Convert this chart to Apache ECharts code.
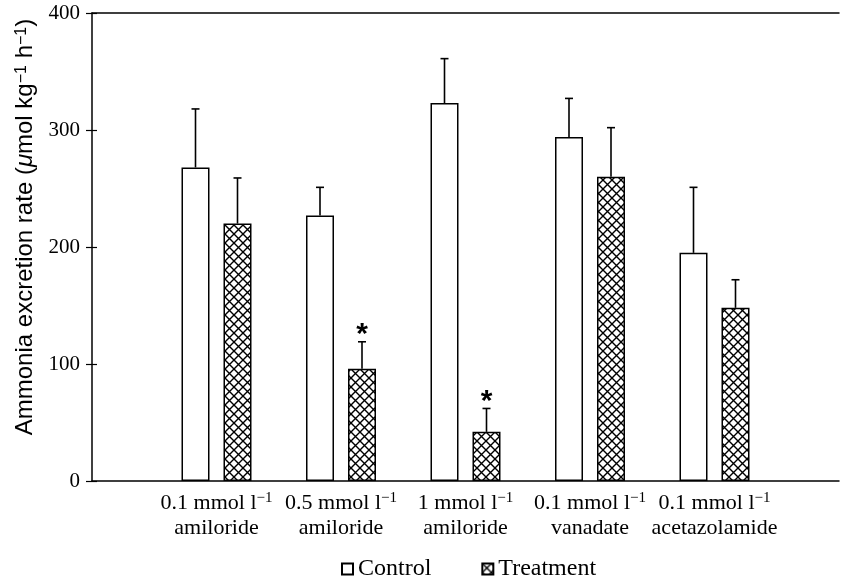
<!DOCTYPE html>
<html>
<head>
<meta charset="utf-8">
<title>Ammonia excretion rate</title>
<script src="https://cdn.jsdelivr.net/npm/echarts@6/dist/echarts.min.js"></script>
<style>
  html, body { margin: 0; padding: 0; background: #fff; }
  #chart { width: 842px; height: 578px; }
</style>
</head>
<body>
<div id="chart"></div>
<script>
// data
const doses = ['0.1', '0.5', '1', '0.1', '0.1'];
const drugs = ['amiloride', 'amiloride', 'amiloride', 'vanadate', 'acetazolamide'];
const controlMean = [268, 227, 323, 294, 195];
const controlErr = [50, 24, 38, 33, 56];
const treatMean = [220, 96, 42, 260, 148];
const treatErr = [39, 23, 20, 42, 24];
const treatSig = [false, true, true, false, false];
const yTicks = [0, 100, 200, 300, 400];

const serif = 'Liberation Serif';
const sans = 'Liberation Sans';

// padded with an empty slot at each end so the groups sit between the axis ends
const categories = [''].concat(doses.map((d, i) => d + '|' + drugs[i]), ['']);
const pad = arr => [null].concat(arr, [null]);

// cross-hatch fill for the treatment bars
function hatch() {
  const c = document.createElement('canvas');
  c.width = 9;
  c.height = 9;
  const g = c.getContext('2d');
  g.fillStyle = '#fff';
  g.fillRect(0, 0, 9, 9);
  g.strokeStyle = '#000';
  g.lineWidth = 1.4;
  g.beginPath();
  g.moveTo(0, 0); g.lineTo(9, 9);
  g.moveTo(9, 0); g.lineTo(0, 9);
  g.stroke();
  return c;
}

const BAR_W = 28;
const OFFSET = 21;

function errData(mean, err, sig) {
  return mean.map((m, i) => [i + 1, m, err[i], sig ? (sig[i] ? 1 : 0) : 0]);
}

function errRenderer(dx) {
  return function (params, api) {
    const base = api.coord([api.value(0), api.value(1)]);
    const top = api.coord([api.value(0), api.value(1) + api.value(2)]);
    const x = base[0] + dx;
    const children = [
      { type: 'line', shape: { x1: x, y1: base[1], x2: x, y2: top[1] }, style: { stroke: '#000', lineWidth: 1.6 } },
      { type: 'line', shape: { x1: x - 4, y1: top[1], x2: x + 4, y2: top[1] }, style: { stroke: '#000', lineWidth: 1.6 } }
    ];
    if (api.value(3)) {
      children.push({
        type: 'text',
        style: {
          x: x, y: top[1] - 7, text: '*',
          font: 'bold 30px "' + sans + '"',
          fill: '#000', align: 'center', verticalAlign: 'middle'
        }
      });
    }
    return { type: 'group', children: children };
  };
}

const chart = echarts.init(document.getElementById('chart'), null, { renderer: 'canvas' });

const option = {
  animation: false,
  backgroundColor: '#fff',
  grid: { left: 92, right: -3, top: 13, bottom: 97, containLabel: false },
  legend: {
    left: 336,
    top: 552,
    icon: 'rect',
    itemWidth: 11,
    itemHeight: 11,
    itemGap: 50,
    textStyle: { fontFamily: serif, fontSize: 24, color: '#000' },
    data: ['Control', 'Treatment']
  },
  xAxis: [
    {
      type: 'category',
      data: categories,
      boundaryGap: false,
      axisLine: { lineStyle: { color: '#000', width: 1.5 } },
      axisTick: { show: false },
      axisLabel: {
        interval: 0,
        margin: 10,
        color: '#000',
        formatter: v => {
          if (!v) return '';
          const p = v.split('|');
          return '{n|' + p[0] + ' mmol l}{s|−1}\n{n|' + p[1] + '}';
        },
        rich: {
          n: { fontFamily: serif, fontSize: 22, lineHeight: 25, color: '#000' },
          s: { fontFamily: serif, fontSize: 15, lineHeight: 25, verticalAlign: 'top', padding: [0, 0, 4, 0], color: '#000' }
        }
      }
    },
    {
      type: 'category',
      data: categories,
      position: 'top',
      boundaryGap: false,
      axisLine: { onZero: false, lineStyle: { color: '#000', width: 1.5 } },
      axisTick: { show: false },
      axisLabel: { show: false }
    }
  ],
  yAxis: [
    {
      type: 'value',
      min: yTicks[0],
      max: yTicks[yTicks.length - 1],
      interval: 100,
      splitLine: { show: false },
      axisLine: { show: true, lineStyle: { color: '#000', width: 1.5 } },
      axisTick: { show: true, length: 6, lineStyle: { color: '#000', width: 1.2 } },
      axisLabel: { margin: 12, color: '#000', fontFamily: serif, fontSize: 21 },
      name: 'Ammonia excretion rate ({i|μ}mol kg{s|−1} h{s|−1})',
      nameLocation: 'middle',
      nameRotate: 90,
      nameGap: 52,
      nameTextStyle: {
        fontFamily: sans, fontSize: 24, color: '#000',
        padding: [0, 0, 0, 40],
        rich: {
          i: { fontFamily: sans, fontSize: 24, fontStyle: 'italic', color: '#000' },
          s: { fontFamily: sans, fontSize: 16, verticalAlign: 'top', color: '#000' }
        }
      }
    },
    {
      type: 'value',
      min: yTicks[0],
      max: yTicks[yTicks.length - 1],
      interval: 100,
      position: 'left',
      splitLine: { show: false },
      axisLine: { show: false },
      axisTick: { show: true, inside: true, length: 5, lineStyle: { color: '#000', width: 1.2 } },
      axisLabel: { show: false }
    }
  ],
  series: [
    {
      name: 'Control',
      type: 'bar',
      data: pad(controlMean),
      barWidth: BAR_W,
      barGap: '50%',
      itemStyle: { color: '#fff', borderColor: '#000', borderWidth: 1.5 }
    },
    {
      name: 'Treatment',
      type: 'bar',
      data: pad(treatMean),
      barWidth: BAR_W,
      barGap: '50%',
      itemStyle: { color: { image: hatch(), repeat: 'repeat' }, borderColor: '#000', borderWidth: 1.5 }
    },
    {
      type: 'custom',
      renderItem: errRenderer(-OFFSET),
      data: errData(controlMean, controlErr),
      z: 3
    },
    {
      type: 'custom',
      renderItem: errRenderer(OFFSET),
      data: errData(treatMean, treatErr, treatSig),
      z: 3
    }
  ]
};

chart.setOption(option);
</script>
</body>
</html>
